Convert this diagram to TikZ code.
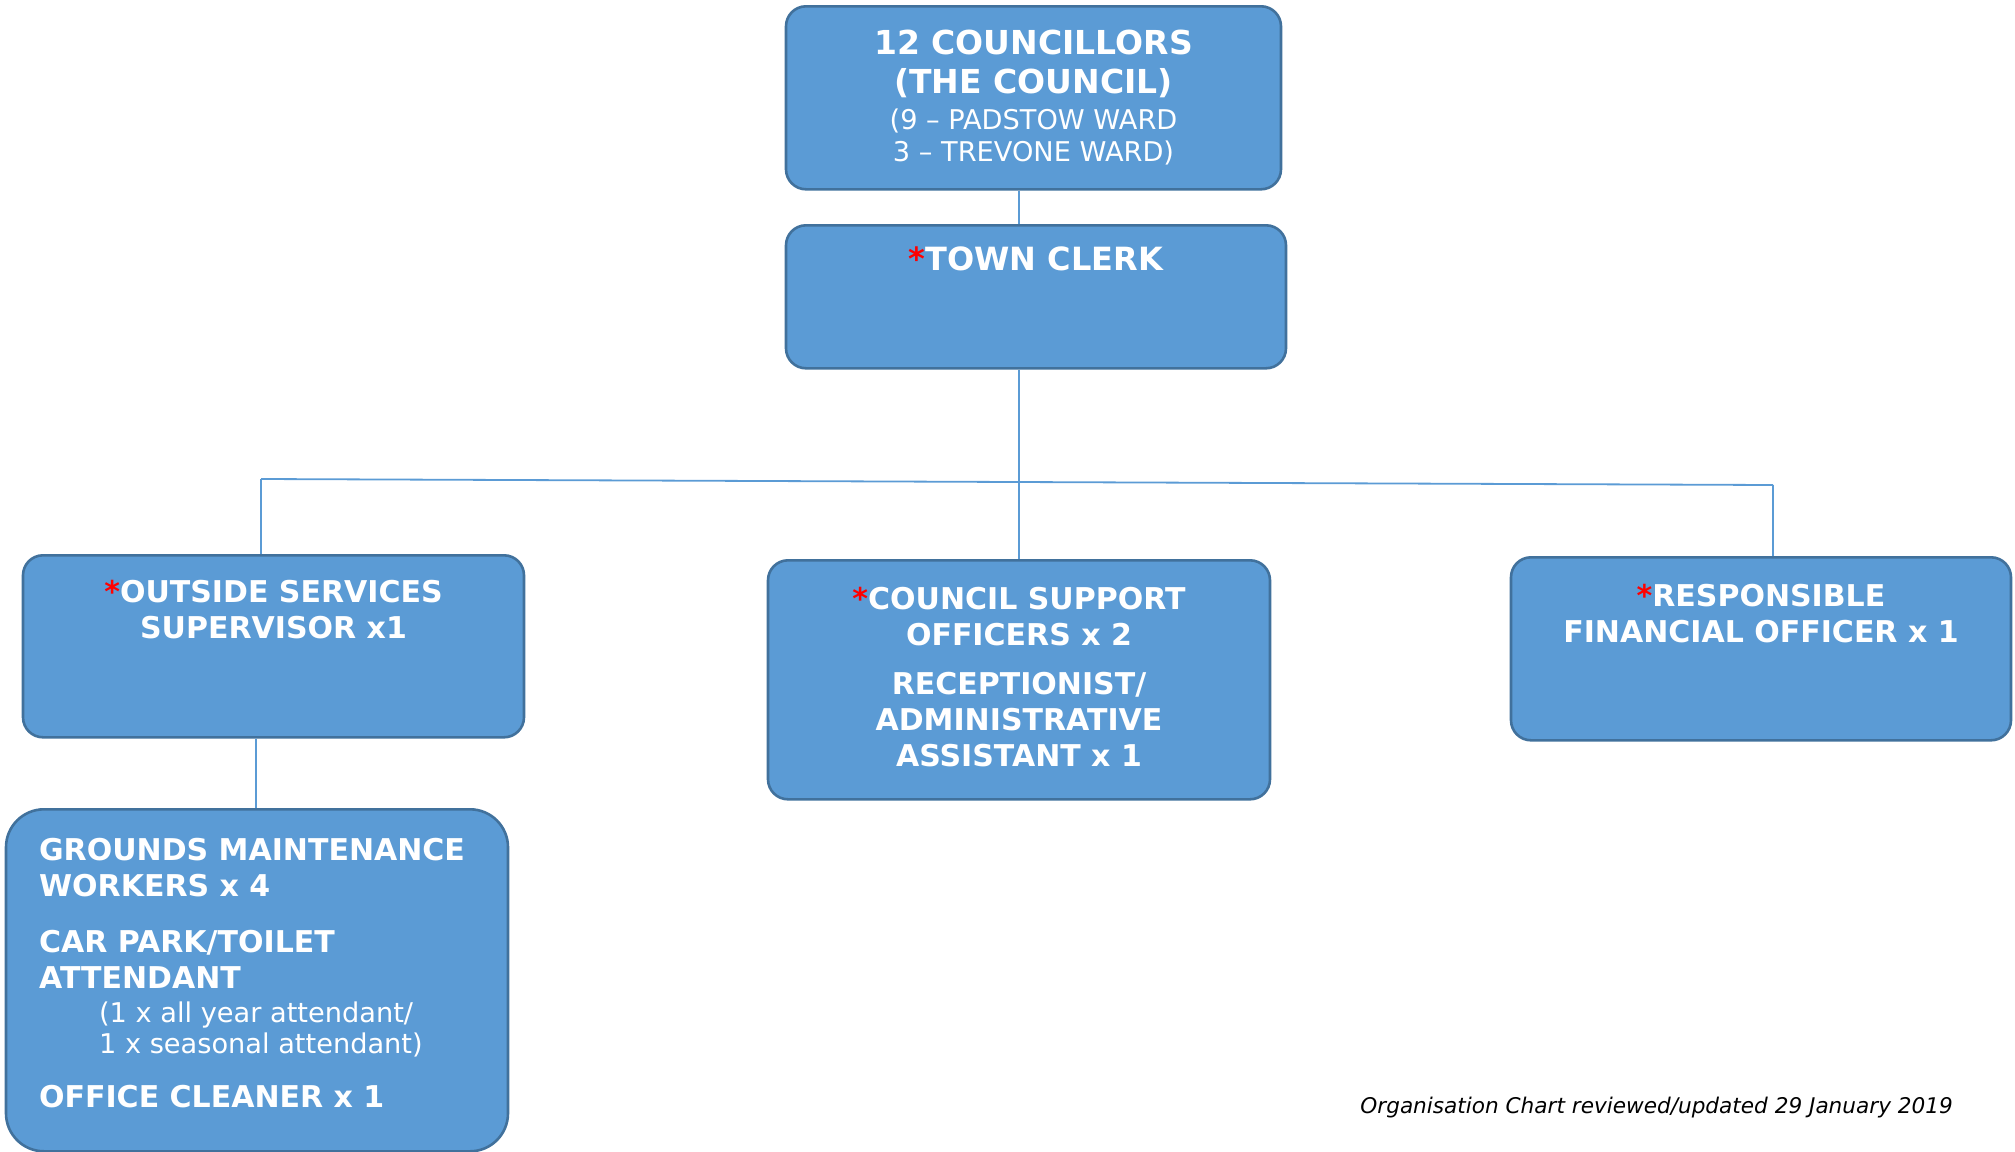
\documentclass[tikz,border=0pt]{standalone}
\usepackage{fontspec}
\setmainfont{DejaVu Sans}
\usepackage{xcolor}
\definecolor{pcBlue}{RGB}{91,155,213}
\definecolor{pcBlueD}{RGB}{65,113,156}
\definecolor{pcRed}{RGB}{255,0,0}
\usepackage{tikz}
\usetikzlibrary{positioning}
\newcommand{\rstar}{\textcolor{pcRed}{*}}

\begin{document}
\begin{tikzpicture}[x=0.5pt,y=-0.5pt,
  o/.style={draw=pcBlueD,fill=pcBlue,line width=1.3pt,rounded corners=10pt,anchor=north,inner sep=0pt},
  t/.style={anchor=north,align=center,text=white,inner sep=0pt,font=\fontsize{15}{18}\selectfont\bfseries},
  a/.style={pcBlue,line width=0.9pt}]
  \useasboundingbox (0,0) rectangle (2015,1152);
  % boxes
  \node[o,minimum width=247.5pt,minimum height=91.5pt] (council) at (1033.5,5) {};
  \node[o,minimum width=250pt,minimum height=71.5pt] (clerk) at (1036,224) {};
  \node[o,minimum width=250.5pt,minimum height=91pt] (outside) at (273.5,554) {};
  \node[o,minimum width=251pt,minimum height=119.5pt] (support) at (1019,559) {};
  \node[o,minimum width=250pt,minimum height=91.5pt] (rfo) at (1761,556) {};
  \node[o,minimum width=251pt,minimum height=171pt,rounded corners=19pt] (grounds) at (257,808) {};
  % texts
  \node[t,font=\fontsize{16.5}{19.5}\selectfont\bfseries,below=12.5pt of council.north] (councilT)
    {12 COUNCILLORS\\(THE COUNCIL)\\[-1.5pt]
    {\fontsize{13.6}{16}\selectfont\mdseries (9 – PADSTOW WARD}\\[-3.5pt]
    {\fontsize{13.6}{16}\selectfont\mdseries 3 – TREVONE WARD)}};
  \node[t,font=\fontsize{16}{19}\selectfont\bfseries,below=11pt of clerk.north] (clerkT) {\rstar TOWN CLERK};
  \node[t,below=13pt of outside.north] (outsideT) {\rstar OUTSIDE SERVICES\\SUPERVISOR x1};
  \node[t,below=14pt of support.north] (supportT) {\rstar COUNCIL SUPPORT\\OFFICERS x 2\\[6.5pt]
    RECEPTIONIST/\\ADMINISTRATIVE\\ASSISTANT x 1};
  \node[t,below=14pt of rfo.north] (rfoT) {\rstar RESPONSIBLE\\FINANCIAL OFFICER x 1};
  \node[t,align=left,anchor=north west,below right=15pt and 17pt of grounds.north west] (groundsT)
    {GROUNDS MAINTENANCE\\WORKERS x 4\\[10pt]
     CAR PARK/TOILET\\ATTENDANT\\[-1pt]
     {\fontsize{13.6}{16}\selectfont\mdseries\hspace*{30pt}(1 x all year attendant/}\\[-2.5pt]
     {\fontsize{13.6}{16}\selectfont\mdseries\hspace*{30pt}1 x seasonal attendant)}\\[9pt]
     OFFICE CLEANER x 1};
  \node[anchor=west,inner sep=0pt,font=\fontsize{10.8}{12}\selectfont\itshape] (note) at (1360,1108)
    {Organisation Chart reviewed/updated 29 January 2019};
  % connectors
  \coordinate (jl) at (261,479);
  \coordinate (jr) at (1773,485);
  \coordinate (jm) at (1019,482);
  \coordinate (jg) at (256,760);
  \draw[a] (jl) -- (jr);
  \draw[a] (jm |- council.south) -- (jm |- clerk.north);
  \draw[a] (jm |- clerk.south) -- (jm |- support.north);
  \draw[a] (jl) -- (jl |- outside.north);
  \draw[a] (jr) -- (jr |- rfo.north);
  \draw[a] (jg |- outside.south) -- (jg |- grounds.north);
\end{tikzpicture}
\end{document}
